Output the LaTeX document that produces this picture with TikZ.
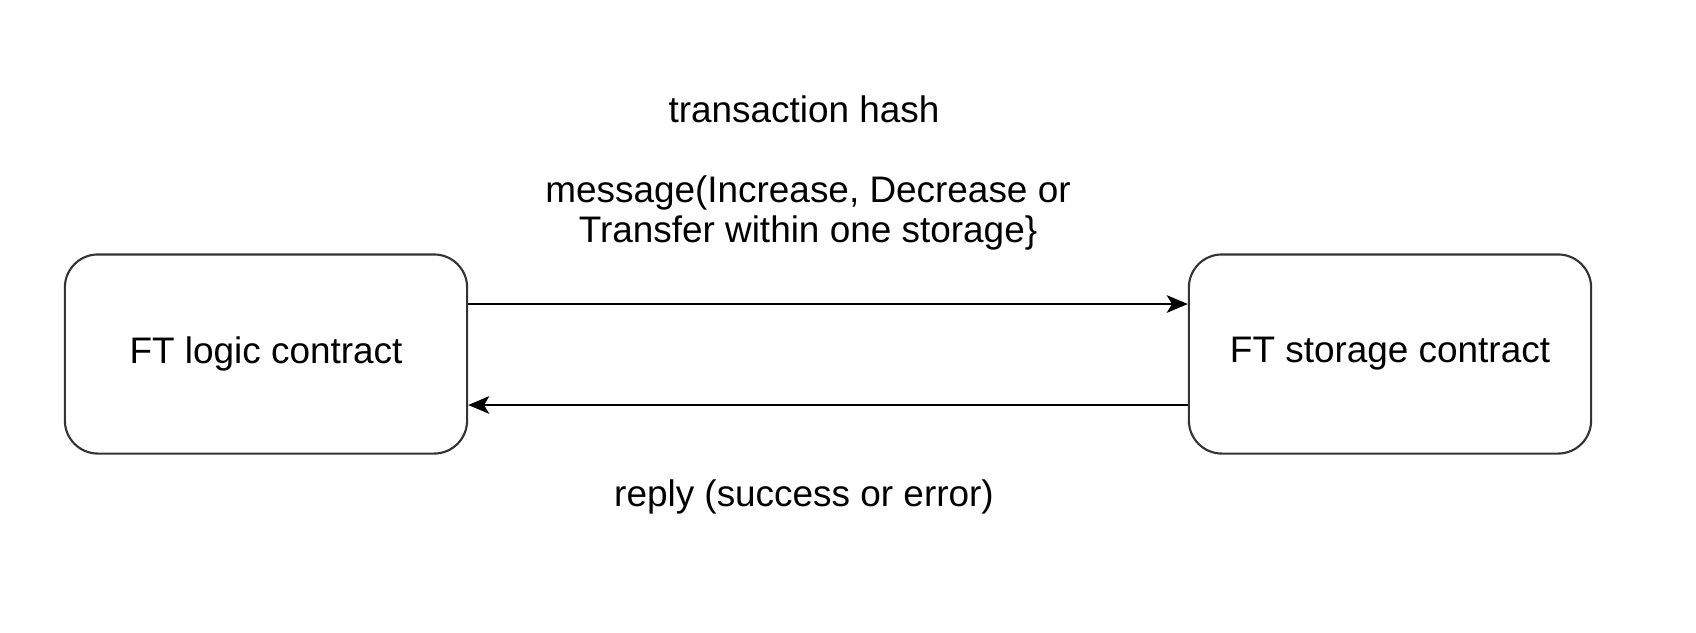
\documentclass[tikz,border=0pt]{standalone}
\usepackage{fontspec}
\setmainfont{Liberation Sans}
\usetikzlibrary{arrows.meta}
\begin{document}
\begin{tikzpicture}[x=0.01cm,y=-0.01cm,
  box/.style={draw=black!80, line width=0.6pt, rounded corners=0.33cm, minimum width=4.02cm, minimum height=1.99cm, inner sep=0pt, font=\fontsize{10.5}{13}\selectfont},
  lbl/.style={font=\fontsize{10.5}{13}\selectfont, inner sep=0pt, align=center},
  conn/.style={line width=0.6pt, -{Stealth[length=6pt,width=5pt,inset=1.5pt]}}]
\useasboundingbox (0,0) rectangle (1696,632);
\node[box] (logic) at (266,354) {FT logic contract};
\node[box] (storage) at (1390,354) {FT storage contract};
\coordinate (a1) at (467,304);
\coordinate (a2) at (1190,304);
\coordinate (b1) at (1190,405);
\coordinate (b2) at (467,405);
\draw[conn] (logic.east |- a1) -- (storage.west |- a2);
\draw[conn] (storage.west |- b1) -- (logic.east |- b2);
\node[lbl] (hash) at (804,109) {transaction hash};
\node[lbl, font=\fontsize{10.5}{11.5}\selectfont] (msg) at (808,213) {message(Increase, Decrease or\\Transfer within one storage\}};
\node[lbl] (reply) at (804,497) {reply (success or error)};
\end{tikzpicture}
\end{document}
